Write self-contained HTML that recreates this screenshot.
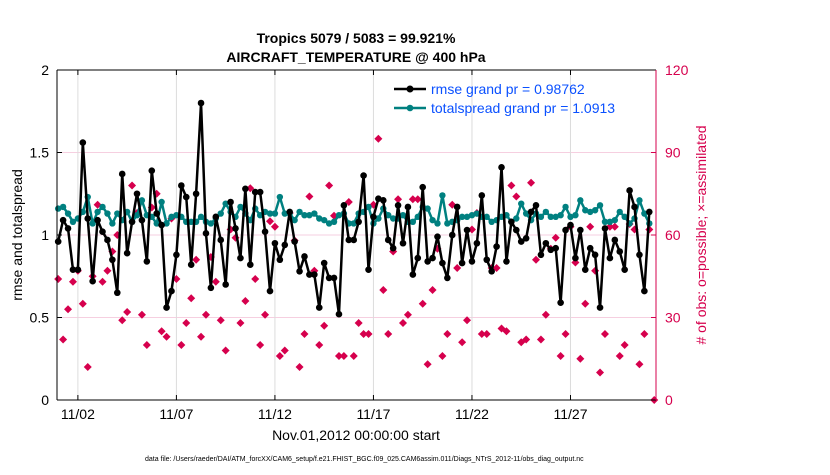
<!DOCTYPE html>
<html><head><meta charset="utf-8"><style>
body{margin:0;background:#fff;}
svg text{font-family:"Liberation Sans",Arial,sans-serif;}
</style></head><body>
<svg id="chart" width="830" height="470" viewBox="0 0 830 470" xmlns="http://www.w3.org/2000/svg">
<rect width="830" height="470" fill="#fff"/>
<text x="356" y="43" text-anchor="middle" font-size="14" font-weight="bold">Tropics 5079 / 5083 = 99.921%</text>
<text x="356" y="62" text-anchor="middle" font-size="14" font-weight="bold">AIRCRAFT_TEMPERATURE @ 400 hPa</text>
<g id="grid"></g>
<g id="series"></g>
<g id="axes"></g>
<text transform="translate(22,235) rotate(-90)" text-anchor="middle" font-size="14">rmse and totalspread</text>
<text transform="translate(706,235) rotate(-90)" text-anchor="middle" font-size="14" fill="#d6004d"># of obs: o=possible; ×=assimilated</text>
<text x="356" y="440" text-anchor="middle" font-size="14">Nov.01,2012 00:00:00 start</text>
<text x="145" y="461" font-size="7">data file: /Users/raeder/DAI/ATM_forcXX/CAM6_setup/f.e21.FHIST_BGC.f09_025.CAM6assim.011/Diags_NTrS_2012-11/obs_diag_output.nc</text>
<g>
<line x1="394" y1="89" x2="426" y2="89" stroke="#000" stroke-width="2.5"/>
<circle cx="410" cy="89" r="3.5" fill="#000"/>
<text x="431" y="94" font-size="14" fill="#0a50ff">rmse grand pr = 0.98762</text>
<line x1="394" y1="108" x2="426" y2="108" stroke="#008080" stroke-width="2.5"/>
<circle cx="410" cy="108" r="3.3" fill="#008080"/>
<text x="431" y="113" font-size="14" fill="#0a50ff">totalspread grand pr = 1.0913</text>
</g>
</svg>
<script>
const rmse = [0.96,1.09,1.04,0.79,0.79,1.56,1.10,0.72,1.09,1.02,0.97,0.85,0.65,1.37,0.89,1.08,1.25,1.09,0.84,1.39,1.13,1.06,0.56,0.66,0.88,1.30,1.23,0.82,1.25,1.80,
1.01,0.68,1.11,0.97,0.70,1.20,1.04,0.86,1.28,0.82,1.26,1.26,1.02,0.66,0.95,0.85,0.94,1.14,0.96,0.78,0.87,0.76,0.76,0.56,0.83,0.74,0.74,0.52,1.18,0.97,
0.97,1.08,1.36,0.79,1.11,1.22,1.21,0.97,0.92,1.18,0.95,1.17,0.76,0.86,1.29,0.84,0.86,0.99,0.83,0.74,1.00,1.17,0.83,1.03,0.84,0.95,1.24,0.85,0.78,0.93,1.41,
0.84,1.08,1.03,0.96,0.98,1.14,1.18,0.88,0.95,0.91,0.92,0.59,1.03,1.06,0.86,1.03,0.79,0.92,0.88,0.56,1.04,0.86,0.97,0.90,0.79,1.27,1.17,0.88,0.66,1.14];
const spread = [1.16,1.17,1.13,1.08,1.10,1.14,1.23,1.07,1.14,1.17,1.13,1.07,1.13,1.09,1.14,1.08,1.12,1.21,1.12,1.11,1.07,1.20,1.07,1.11,1.12,1.11,1.08,1.08,1.08,1.11,
1.08,1.07,1.10,1.13,1.19,1.14,1.11,1.17,1.13,1.09,1.16,1.12,1.14,1.13,1.13,1.23,1.13,1.13,1.09,1.14,1.12,1.12,1.13,1.10,1.09,1.07,1.08,1.12,1.13,1.07,
1.07,1.13,1.14,1.17,1.07,1.10,1.16,1.12,1.10,1.10,1.12,1.08,1.08,1.11,1.17,1.16,1.09,1.07,1.24,1.07,1.08,1.09,1.11,1.11,1.12,1.13,1.11,1.11,1.08,1.09,1.11,
1.12,1.08,1.10,1.19,1.13,1.09,1.13,1.11,1.14,1.11,1.11,1.12,1.17,1.11,1.12,1.21,1.15,1.14,1.15,1.18,1.08,1.08,1.09,1.14,1.11,1.07,1.10,1.21,1.13,1.07];
const nobs = [44,22,33,43,47,35,12,45,71,43,47,54,60,29,32,78,68,31,20,70,75,25,23,66,44,20,28,37,51,23,
31,52,43,29,18,62,59,28,36,77,44,20,31,65,63,16,18,68,58,12,24,74,47,20,27,78,67,16,16,72,
16,28,24,24,71,95,40,24,54,73,28,31,73,73,35,13,40,55,16,24,71,48,21,29,62,68,24,24,48,48,26,
25,78,74,21,22,79,51,22,31,55,59,16,24,63,50,15,35,63,47,10,24,63,63,16,20,64,62,13,24,62,0];
const xTickLabels = ["11/02","11/07","11/12","11/17","11/22","11/27"];
const xTickDays = [1,6,11,16,21,26];
const yTicks = [0,0.5,1,1.5,2];
const yTickLabels = ["0","0.5","1","1.5","2"];
const y2Ticks = [0,30,60,90,120];

const L=57,R=656,T=70,B=400;
const X=d=>L+(d+0.06)/30.4*(R-L);
const Y=v=>B-v/2*(B-T);
const Y2=v=>B-v/120*(B-T);
const NS="http://www.w3.org/2000/svg";
function mk(tag,attrs,parent){const e=document.createElementNS(NS,tag);for(const k in attrs)e.setAttribute(k,attrs[k]);parent.appendChild(e);return e;}
const grid=document.getElementById('grid'),ser=document.getElementById('series'),ax=document.getElementById('axes');
yTicks.forEach((v,i)=>{if(v>0&&v<2){const g=mk('line',{x1:L,x2:R,y1:Y(v),y2:Y(v),stroke:'#f6cfe0','stroke-width':1},grid);

}
const t=mk('text',{x:L-8,y:Y(v)+5,'text-anchor':'end','font-size':14},ax);t.textContent=yTickLabels[i];


mk('line',{x1:L,x2:L+5,y1:Y(v),y2:Y(v),stroke:'#000'},ax);});
y2Ticks.forEach(v=>{const t=mk('text',{x:R+9,y:Y2(v)+5,'font-size':14,fill:'#d6004d'},ax);t.textContent=v;


mk('line',{x1:R-5,x2:R,y1:Y2(v),y2:Y2(v),stroke:'#d6004d'},ax);});
xTickDays.forEach((d,i)=>{const g=mk('line',{x1:X(d),x2:X(d),y1:T,y2:B,stroke:'#dcdcdc','stroke-width':1},grid);


mk('line',{x1:X(d),x2:X(d),y1:B,y2:B-5,stroke:'#000'},ax);mk('line',{x1:X(d),x2:X(d),y1:T,y2:T+5,stroke:'#000'},ax);
const t=mk('text',{x:X(d),y:B+19,'text-anchor':'middle','font-size':14},ax);t.textContent=xTickLabels[i];

});
mk('line',{x1:L,x2:R,y1:T,y2:T,stroke:'#000'},ax);mk('line',{x1:L,x2:R,y1:B,y2:B,stroke:'#000'},ax);
mk('line',{x1:L,x2:L,y1:T,y2:B,stroke:'#000'},ax);mk('line',{x1:R,x2:R,y1:T,y2:B,stroke:'#d6004d'},ax);
nobs.forEach((v,i)=>{const x=X(i*0.25),y=Y2(v);const p=mk('path',{d:`M${x},${y-4}L${x+4},${y}L${x},${y+4}L${x-4},${y}Z`,fill:'#d6004d'},ser);

});
function line(arr,color,name,r){const pts=arr.map((v,i)=>X(i*0.25)+','+Y(v)).join(' ');
const pl=mk('polyline',{points:pts,fill:'none',stroke:color,'stroke-width':2.5,'stroke-linejoin':'round'},ser);


arr.forEach((v,i)=>{const m=mk('circle',{cx:X(i*0.25),cy:Y(v),r:r,fill:color},ser);

});}
line(spread,'#008080','totalspread',3.2);
line(rmse,'#000','rmse',3.3);
</script>
</body></html>
